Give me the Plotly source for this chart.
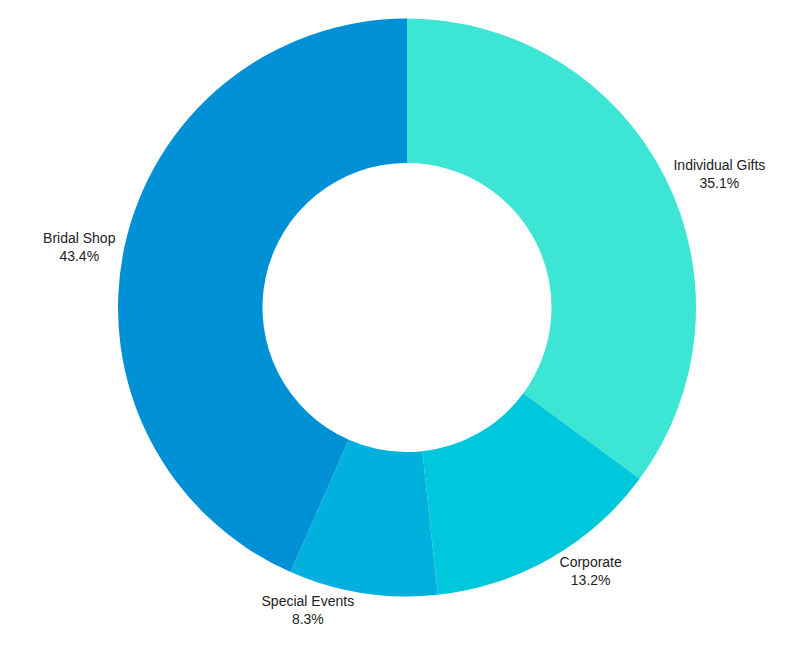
import plotly.graph_objects as go

labels = ["Individual Gifts", "Corporate", "Special Events", "Bridal Shop"]
values = [35.1, 13.2, 8.3, 43.4]
colors = ["#3de5d5", "#00c8dc", "#00b0dd", "#0090d5"]

fig = go.Figure(go.Pie(
    labels=labels, values=values, hole=0.5, sort=False, direction="clockwise",
    rotation=0, marker=dict(colors=colors, line=dict(width=0)),
    textposition="outside", texttemplate="%{label}<br>%{percent:.1%}",
    textfont=dict(family="Liberation Sans, Arial", size=14, color="#222"),
    showlegend=False, hoverinfo="label+percent"
))
fig.update_layout(width=792, height=647, margin=dict(t=0, b=53, l=0, r=6),
                  paper_bgcolor="white", plot_bgcolor="white")
fig.write_html("out.html")
